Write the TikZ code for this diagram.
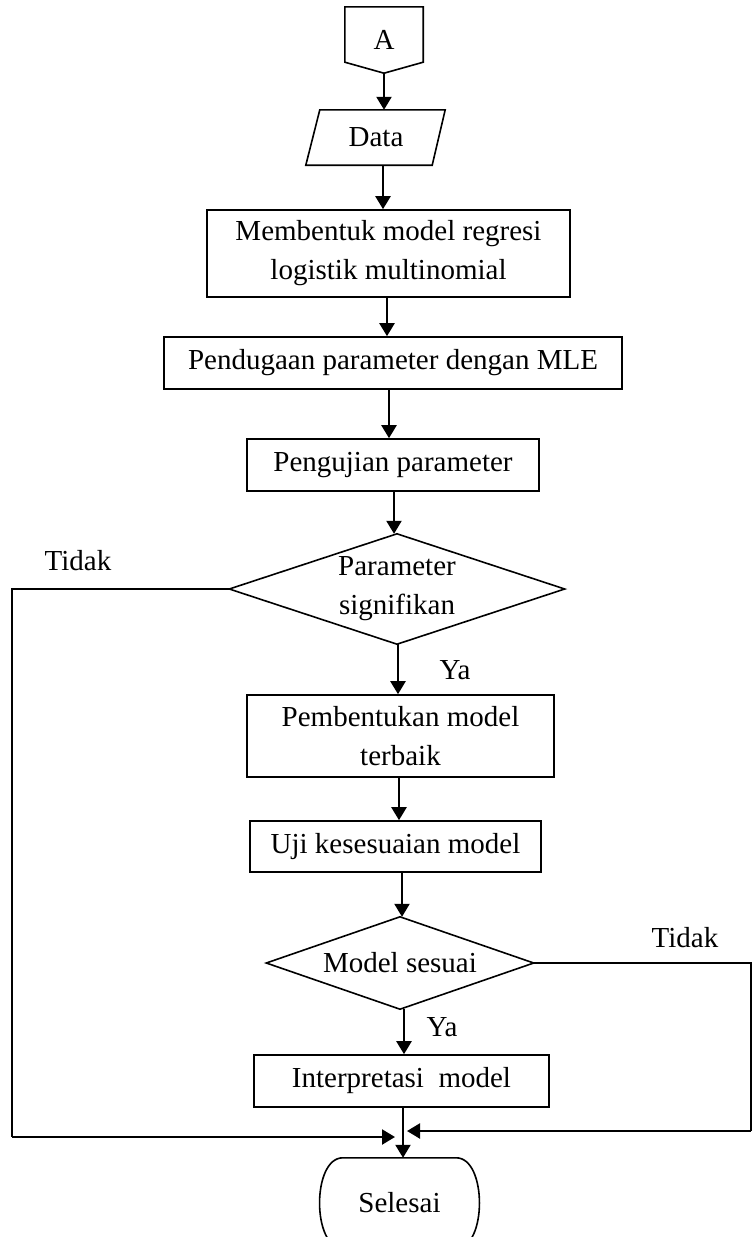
\documentclass[tikz,border=0pt]{standalone}
\usepackage{fontspec}
\setmainfont{Liberation Serif}
\usetikzlibrary{arrows.meta,calc}
\begin{document}
\begin{tikzpicture}[x=1pt,y=-1pt,
  font=\fontsize{29}{39}\selectfont,
  shapeline/.style={line width=1.6pt},
  box/.style={draw, shapeline, rectangle, inner sep=0pt, align=center},
  ghost/.style={draw=none, rectangle, inner sep=0pt, align=center},
  arr/.style={line width=2.2pt, -{Triangle[length=13pt,width=15pt]}},
  conn/.style={line width=2pt},
  lbl/.style={inner sep=0pt}]
\useasboundingbox (0,0) rectangle (754,1237);

% off-page connector A
\node[ghost, minimum width=78, minimum height=66] (A) at (384,40) {A};
\draw[shapeline] (A.north west) -- (A.north east) -- ($(A.south east)+(0,-11)$) -- (A.south) -- ($(A.south west)+(0,-11)$) -- cycle;

% Data parallelogram
\node[ghost, minimum width=126, minimum height=55] (Data) at (376,137.5) {Data};
\draw[shapeline] ($(Data.north west)+(7,0)$) -- ($(Data.north east)+(6,0)$) -- ($(Data.south east)+(-7,0)$) -- ($(Data.south west)+(-7,0)$) -- cycle;

\node[box, minimum width=363, minimum height=87] (B1) at (388.5,253.5) {Membentuk model regresi\\logistik multinomial};
\node[box, minimum width=458, minimum height=52] (B2) at (393,363) {Pendugaan parameter dengan MLE};
\node[box, minimum width=292, minimum height=52] (B3) at (393,465) {Pengujian parameter};

\node[ghost, minimum width=335, minimum height=110] (D1) at (397,589) {Parameter\\signifikan};
\draw[shapeline] (D1.north) -- (D1.east) -- (D1.south) -- (D1.west) -- cycle;

\node[box, minimum width=307, minimum height=82] (B4) at (400.5,736) {Pembentukan model\\terbaik};
\node[box, minimum width=291, minimum height=51] (B5) at (395.5,846.5) {Uji kesesuaian model};

\node[ghost, minimum width=267, minimum height=92] (D2) at (400,963) {Model sesuai};
\draw[shapeline] (D2.north) -- (D2.east) -- (D2.south) -- (D2.west) -- cycle;

\node[box, minimum width=295, minimum height=52] (B6) at (401.5,1081) {Interpretasi~ model};

\node[ghost, minimum width=159, minimum height=90] (Sel) at (399.5,1203) {Selesai};
\draw[shapeline] ($(Sel.north west)+(23,0)$) -- ($(Sel.north east)+(-23,0)$)
  .. controls ($(Sel.north east)+(8,0)$) and ($(Sel.south east)+(8,0)$) .. ($(Sel.south east)+(-23,0)$)
  -- ($(Sel.south west)+(23,0)$)
  .. controls ($(Sel.south west)+(-8,0)$) and ($(Sel.north west)+(-8,0)$) .. ($(Sel.north west)+(23,0)$) -- cycle;

% labels
\node[lbl] (T1) at (78,561) {Tidak};
\node[lbl] (T2) at (685,938) {Tidak};
\node[lbl] (Y1) at (455,670) {Ya};
\node[lbl] (Y2) at (442,1027) {Ya};

% helper coordinates
\coordinate (Atip) at (384,73);
\coordinate (LC) at (12,589);
\coordinate (LB) at (12,1137);
\coordinate (LT) at (395,1137);
\coordinate (RC) at (751,963);
\coordinate (RB) at (751,1131);
\coordinate (RT) at (407,1131);

% connectors
\draw[arr] (Atip) -- (Data.north -| Atip);
\draw[arr] (Data.south -| 383,0) -- (B1.north -| 383,0);
\draw[arr] (B1.south -| 387,0) -- (B2.north -| 387,0);
\draw[arr] (B2.south -| 389,0) -- (B3.north -| 389,0);
\draw[arr] (B3.south -| 394,0) -- (D1.north -| 394,0);
\draw[arr] (D1.south -| 398,0) -- (B4.north -| 398,0);
\draw[arr] (B4.south -| 399,0) -- (B5.north -| 399,0);
\draw[arr] (B5.south -| 402,0) -- (D2.north -| 402,0);
\draw[arr] (D2.south -| 404,0) -- (B6.north -| 404,0);
\draw[arr] (B6.south -| 403,0) -- (Sel.north -| 403,0);

\draw[conn] (D1.west) -- (LC) -- (LB);
\draw[arr] (LB) -- (LT);
\draw[conn] (D2.east) -- (RC) -- (RB);
\draw[arr] (RB) -- (RT);
\end{tikzpicture}
\end{document}
